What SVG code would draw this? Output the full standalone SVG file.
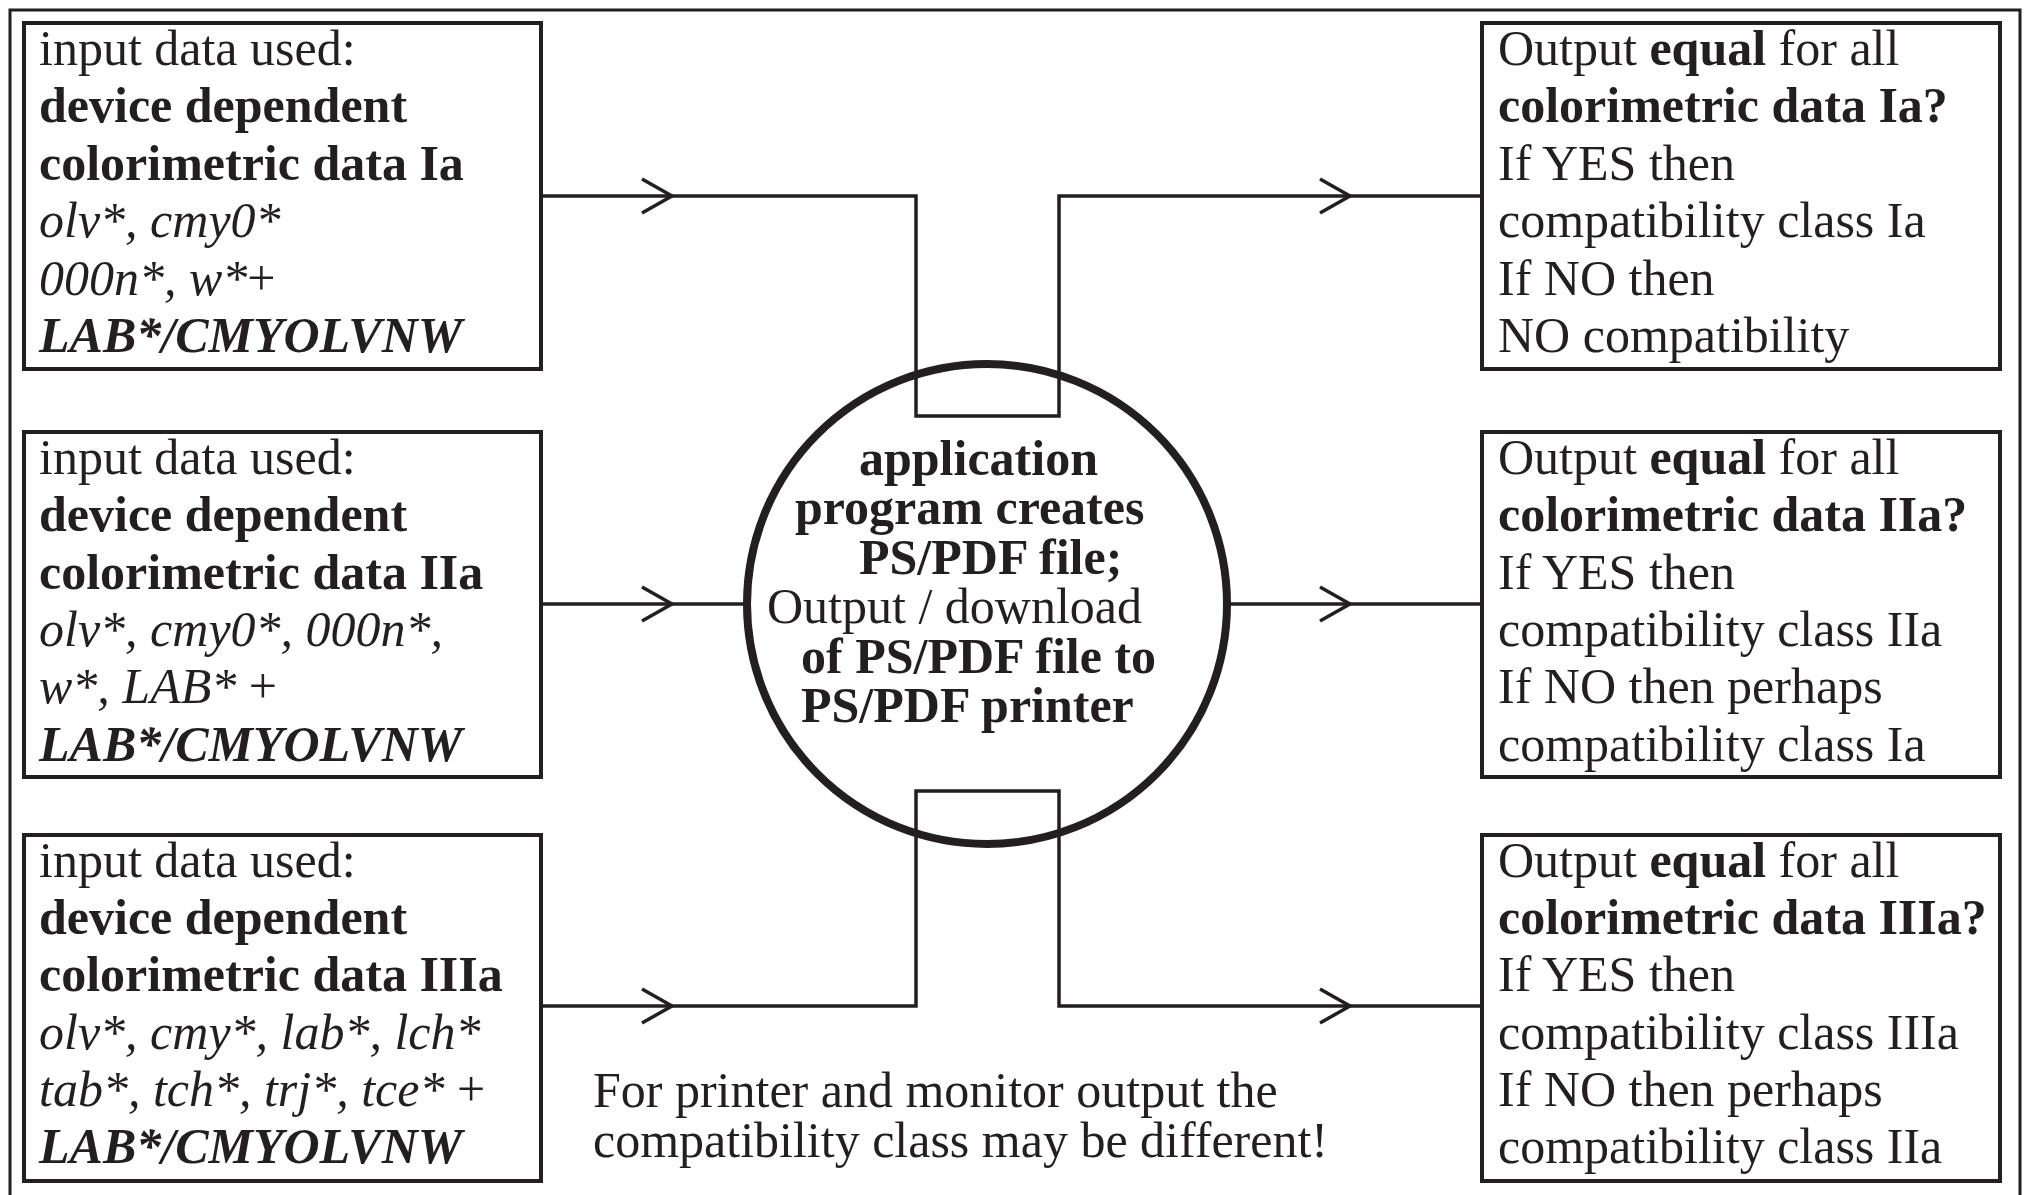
<svg xmlns="http://www.w3.org/2000/svg" width="2025" height="1195" viewBox="0 0 2025 1195">
<style>
text{font-family:"Liberation Serif","Times New Roman",serif;font-size:50px;fill:#231f20}
.b{font-weight:bold}
.i{font-style:italic}
.bi{font-weight:bold;font-style:italic}
.box{fill:none;stroke:#231f20;stroke-width:4}
.ln{fill:none;stroke:#231f20;stroke-width:3.5}
</style>
<defs>
<marker id="arr" markerUnits="userSpaceOnUse" viewBox="-34 -22 38 44" refX="0" refY="0" markerWidth="38" markerHeight="44" orient="auto">
<path d="M-30,-17 L0,0 L-30,17" fill="none" stroke="#231f20" stroke-width="3.5"/>
</marker>
</defs>
<rect width="2025" height="1195" fill="#fff"/>
<path d="M10,1200 V10 H2020 V1200" fill="none" stroke="#231f20" stroke-width="3"/>

<g id="connectors">
<path class="ln" d="M541,196 H672" marker-end="url(#arr)"/>
<path class="ln" d="M672,196 H916 V416 H1059 V196 H1350" marker-end="url(#arr)"/>
<path class="ln" d="M1350,196 H1481"/>
<path class="ln" d="M541,604 H672" marker-end="url(#arr)"/>
<path class="ln" d="M672,604 H748"/>
<path class="ln" d="M1226,604 H1350" marker-end="url(#arr)"/>
<path class="ln" d="M1350,604 H1481"/>
<path class="ln" d="M541,1006 H672" marker-end="url(#arr)"/>
<path class="ln" d="M672,1006 H916 V791 H1059 V1006 H1350" marker-end="url(#arr)"/>
<path class="ln" d="M1350,1006 H1481"/>
</g>

<g id="center">
<circle cx="987" cy="604" r="240" fill="none" stroke="#231f20" stroke-width="8"/>
<text class="b" x="859" y="475">application</text>
<text class="b" x="795" y="524">program creates</text>
<text class="b" x="859" y="574">PS/PDF file;</text>
<text x="767" y="623">Output / download</text>
<text class="b" x="801" y="673">of PS/PDF file to</text>
<text class="b" x="801" y="722">PS/PDF printer</text>
</g>

<g id="in1">
<rect class="box" x="24" y="23" width="517" height="346"/>
<text x="39" y="65">input data used:</text>
<text class="b" x="39" y="122">device dependent</text>
<text class="b" x="39" y="180">colorimetric data Ia</text>
<text class="i" x="39" y="237">olv*, cmy0*</text>
<text x="39" y="295"><tspan class="i">000n*, w*</tspan>+</text>
<text class="bi" x="39" y="352">LAB*/CMYOLVNW</text>
</g>

<g id="in2">
<rect class="box" x="24" y="432" width="517" height="345"/>
<text x="39" y="474">input data used:</text>
<text class="b" x="39" y="531">device dependent</text>
<text class="b" x="39" y="589">colorimetric data IIa</text>
<text class="i" x="39" y="646">olv*, cmy0*, 000n*,</text>
<text x="39" y="703"><tspan class="i">w*, LAB*</tspan> +</text>
<text class="bi" x="39" y="761">LAB*/CMYOLVNW</text>
</g>

<g id="in3">
<rect class="box" x="24" y="835" width="517" height="346"/>
<text x="39" y="877">input data used:</text>
<text class="b" x="39" y="934">device dependent</text>
<text class="b" x="39" y="991">colorimetric data IIIa</text>
<text class="i" x="39" y="1049">olv*, cmy*, lab*, lch*</text>
<text x="39" y="1106"><tspan class="i">tab*, tch*, trj*, tce*</tspan> +</text>
<text class="bi" x="39" y="1163">LAB*/CMYOLVNW</text>
</g>

<g id="out1">
<rect class="box" x="1482" y="23" width="518" height="346"/>
<text x="1498" y="65">Output <tspan class="b">equal</tspan> for all</text>
<text class="b" x="1498" y="122">colorimetric data Ia?</text>
<text x="1498" y="180">If YES then</text>
<text x="1498" y="237">compatibility class Ia</text>
<text x="1498" y="295">If NO then</text>
<text x="1498" y="352">NO compatibility</text>
</g>

<g id="out2">
<rect class="box" x="1482" y="432" width="518" height="345"/>
<text x="1498" y="474">Output <tspan class="b">equal</tspan> for all</text>
<text class="b" x="1498" y="531">colorimetric data IIa?</text>
<text x="1498" y="589">If YES then</text>
<text x="1498" y="646">compatibility class IIa</text>
<text x="1498" y="703">If NO then perhaps</text>
<text x="1498" y="761">compatibility class Ia</text>
</g>

<g id="out3">
<rect class="box" x="1482" y="835" width="518" height="346"/>
<text x="1498" y="877">Output <tspan class="b">equal</tspan> for all</text>
<text class="b" x="1498" y="934">colorimetric data IIIa?</text>
<text x="1498" y="991">If YES then</text>
<text x="1498" y="1049">compatibility class IIIa</text>
<text x="1498" y="1106">If NO then perhaps</text>
<text x="1498" y="1163">compatibility class IIa</text>
</g>

<g id="note">
<text x="593" y="1107">For printer and monitor output the</text>
<text x="593" y="1157">compatibility class may be different!</text>
</g>
</svg>
